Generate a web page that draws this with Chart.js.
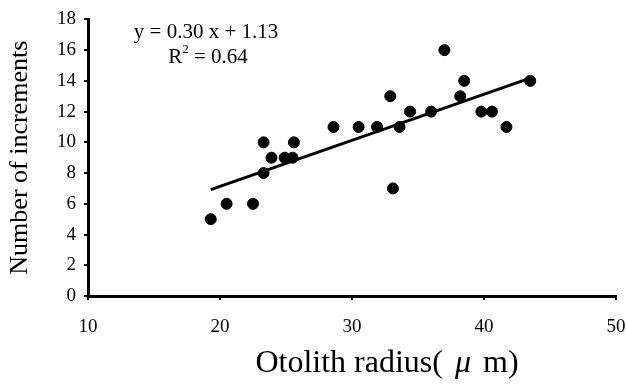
<!DOCTYPE html>
<html>
<head>
<meta charset="utf-8">
<script src="https://cdn.jsdelivr.net/npm/chart.js@4"></script>
<style>
  html, body { margin: 0; padding: 0; background: #fff; }
  #wrap { width: 626px; height: 391px; }
</style>
</head>
<body>
<div id="wrap"><canvas id="myChart"></canvas></div>
<script>
// otolith radius (um) vs number of increments
var radius = [19.3, 20.5, 22.5, 23.3, 23.3, 23.9, 24.9, 25.5, 25.6, 28.6, 30.5, 31.9,
              33.6, 32.9, 33.1, 34.4, 36.0, 37.0, 38.2, 38.5, 39.8, 40.6, 41.7, 43.5];
var increments = [5, 6, 6, 8, 10, 9, 9, 9, 10, 11, 11, 11,
                  11, 13, 7, 12, 12, 16, 13, 14, 12, 12, 11, 14];

// trend line ends as drawn
var trendX = [19.3, 43.5];
var trendY = [6.92, 14.18];

var xTicks = [10, 20, 30, 40, 50];
var yTicks = [0, 2, 4, 6, 8, 10, 12, 14, 16, 18];

var SERIF = "'Liberation Serif', 'DejaVu Serif', serif";

var points = radius.map(function (r, i) { return { x: r, y: increments[i] }; });
var trend = trendX.map(function (x, i) { return { x: x, y: trendY[i] }; });

var textPlugin = {
  id: 'texts',
  afterDraw: function (chart) {
    var ctx = chart.ctx;
    ctx.save();
    ctx.fillStyle = '#000';
    ctx.textBaseline = 'middle';
    ctx.font = '21px ' + SERIF;
    ctx.textAlign = 'center';
    ctx.fillText('y = 0.30 x + 1.13', 206, 32);

    // R² = 0.64 with a raised 2
    ctx.textAlign = 'left';
    var a = 'R', b = '2', c = ' = 0.64';
    ctx.font = '21px ' + SERIF;
    var wa = ctx.measureText(a).width, wc = ctx.measureText(c).width;
    ctx.font = '13px ' + SERIF;
    var wb = ctx.measureText(b).width;
    var x0 = 208 - (wa + wb + wc) / 2;
    ctx.font = '21px ' + SERIF;
    ctx.fillText(a, x0, 57);
    ctx.font = '13px ' + SERIF;
    ctx.fillText(b, x0 + wa, 50);
    ctx.font = '21px ' + SERIF;
    ctx.fillText(c, x0 + wa + wb, 57);

    // x axis title, italic mu set apart
    var p1 = 'Otolith radius(', p2 = '\u03bc', p3 = 'm)';
    var gap = 12;
    ctx.font = '32px ' + SERIF;
    var w1 = ctx.measureText(p1).width, w3 = ctx.measureText(p3).width;
    ctx.font = 'italic 32px ' + SERIF;
    var w2 = ctx.measureText(p2).width;
    var xs = 387 - (w1 + gap + w2 + gap + w3) / 2;
    ctx.font = '32px ' + SERIF;
    ctx.fillText(p1, xs, 364);
    ctx.font = 'italic 32px ' + SERIF;
    ctx.fillText(p2, xs + w1 + gap, 364);
    ctx.font = '32px ' + SERIF;
    ctx.fillText(p3, xs + w1 + gap + w2 + gap, 364);
    ctx.restore();
  }
};

var ctx = document.getElementById('myChart').getContext('2d');
var myChart = new Chart(ctx, {
  type: 'scatter',
  data: {
    datasets: [
      {
        label: 'Increments',
        data: points,
        backgroundColor: '#000',
        borderColor: '#000',
        pointRadius: 5.5,
        pointHoverRadius: 5.5
      },
      {
        label: 'Trend',
        type: 'line',
        data: trend,
        borderColor: '#000',
        borderWidth: 3,
        pointRadius: 0,
        fill: false
      }
    ]
  },
  options: {
    responsive: true,
    maintainAspectRatio: false,
    animation: false,
    layout: { padding: { left: 0, top: 15, right: 0, bottom: 0 } },
    plugins: {
      legend: { display: false },
      tooltip: { enabled: false }
    },
    scales: {
      x: {
        type: 'linear',
        min: 10,
        max: 50,
        afterBuildTicks: function (scale) {
          scale.ticks = xTicks.map(function (v) { return { value: v }; });
        },
        afterFit: function (scale) {
          scale.height = 95;
          scale.paddingLeft = 0;
          scale.paddingRight = 10;
        },
        border: { display: true, color: '#000', width: 3 },
        grid: { drawOnChartArea: false, drawTicks: true, tickLength: 4, color: '#000', lineWidth: 2 },
        ticks: { color: '#000', font: { family: SERIF, size: 19 }, padding: 16, maxRotation: 0 },
        title: { display: false }
      },
      y: {
        min: 0,
        max: 18,
        afterBuildTicks: function (scale) {
          scale.ticks = yTicks.map(function (v) { return { value: v }; });
        },
        afterFit: function (scale) { scale.width = 88; },
        border: { display: true, color: '#000', width: 3 },
        grid: { drawOnChartArea: false, drawTicks: true, tickLength: 4, color: '#000', lineWidth: 2 },
        ticks: { color: '#000', font: { family: SERIF, size: 19 }, padding: 8 },
        title: {
          display: true,
          text: 'Number of increments',
          color: '#000',
          font: { family: SERIF, size: 26 },
          padding: { top: 5, bottom: 0 }
        }
      }
    }
  },
  plugins: [textPlugin]
});
</script>
</body>
</html>
